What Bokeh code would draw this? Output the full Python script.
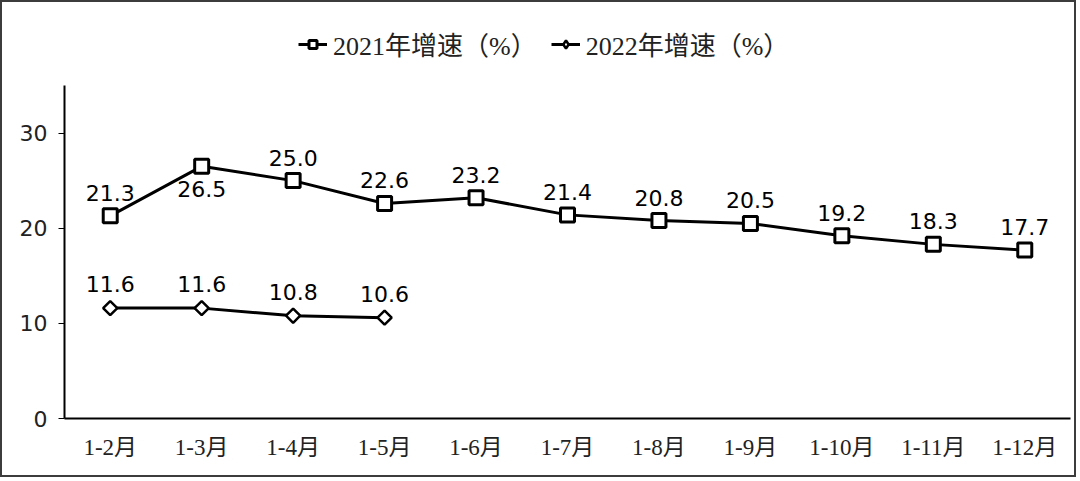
from bokeh.plotting import figure
from bokeh.models import ColumnDataSource, Legend, LegendItem, FactorRange, SingleIntervalTicker
from bokeh.core.properties import value
from bokeh.embed import file_html
from bokeh.resources import INLINE

months = ["1-2月", "1-3月", "1-4月", "1-5月", "1-6月", "1-7月", "1-8月", "1-9月", "1-10月", "1-11月", "1-12月"]
growth_2021 = [21.3, 26.5, 25.0, 22.6, 23.2, 21.4, 20.8, 20.5, 19.2, 18.3, 17.7]
growth_2022 = [11.6, 11.6, 10.8, 10.6]
label_2021 = "2021年增速（%）"
label_2022 = "2022年增速（%）"

SERIF = "'Liberation Serif', 'Noto Sans CJK SC'"

p = figure(width=1076, height=477, x_range=FactorRange(*months), y_range=(0, 43.72),
           output_backend="svg", toolbar_location=None,
           min_border_left=62, min_border_right=8, min_border_top=0, min_border_bottom=61)
p.styles = {"border": "2px solid #3c3c3c"}
p.outline_line_color = None
p.xgrid.grid_line_color = None
p.ygrid.grid_line_color = None

ya = p.yaxis[0]
ya.ticker = SingleIntervalTicker(interval=10)
ya.bounds = (0, 35)
ya.minor_tick_line_color = None
ya.major_tick_out = 6
ya.major_tick_in = 0
ya.axis_line_width = 2
ya.axis_line_color = "black"
ya.major_tick_line_color = "black"
ya.major_label_text_font = "DejaVu Sans"
ya.major_label_text_font_size = "22px"
ya.major_label_text_color = "#222222"
ya.major_label_standoff = 11

xa = p.xaxis[0]
xa.axis_line_width = 2
xa.axis_line_color = "black"
xa.major_tick_line_color = None
xa.minor_tick_line_color = None
xa.major_label_text_font = SERIF
xa.major_label_text_font_size = "23px"
xa.major_label_text_color = "#222222"
xa.major_label_standoff = 10

s1 = ColumnDataSource(dict(x=months, y=growth_2021, t=[f"{v:.1f}" for v in growth_2021],
                           off=[-23 if i != 1 else 23 for i in range(len(growth_2021))]))
s2 = ColumnDataSource(dict(x=months[:len(growth_2022)], y=growth_2022, t=[f"{v:.1f}" for v in growth_2022],
                           off=[-24] * len(growth_2022)))

l1 = p.line("x", "y", source=s1, line_color="black", line_width=3)
m1 = p.scatter("x", "y", source=s1, marker="square", size=14, fill_color="white", line_color="black", line_width=3)
l2 = p.line("x", "y", source=s2, line_color="black", line_width=3)
m2 = p.scatter("x", "y", source=s2, marker="square", size=10, angle=0.7854, fill_color="white", line_color="black", line_width=2.5)

# legend-only glyphs (hidden in the plot)
lg1 = p.scatter("x", "y", source=s1, marker="square", size=11, visible=False,
                fill_color="white", line_color="black", line_width=3)
lg2 = p.scatter("x", "y", source=s2, marker="diamond", size=13, visible=False,
                fill_color="white", line_color="black", line_width=2.5)

for s in (s1, s2):
    p.text("x", "y", text="t", source=s, y_offset="off", text_align="center", text_baseline="middle",
           text_font=value("DejaVu Sans"), text_font_size="22px", text_color="black")

legend = Legend(items=[LegendItem(label=label_2021, renderers=[l1, lg1]),
                       LegendItem(label=label_2022, renderers=[l2, lg2])],
                orientation="horizontal", location=(234, 356),
                label_text_font=SERIF, label_text_font_size="26px", label_text_color="#222222",
                glyph_width=29, label_standoff=6, spacing=14, background_fill_alpha=0, border_line_color=None,
                inactive_fill_alpha=0, margin=0, padding=8)
p.add_layout(legend, "center")

open("out.html", "w").write(file_html(p, INLINE))
